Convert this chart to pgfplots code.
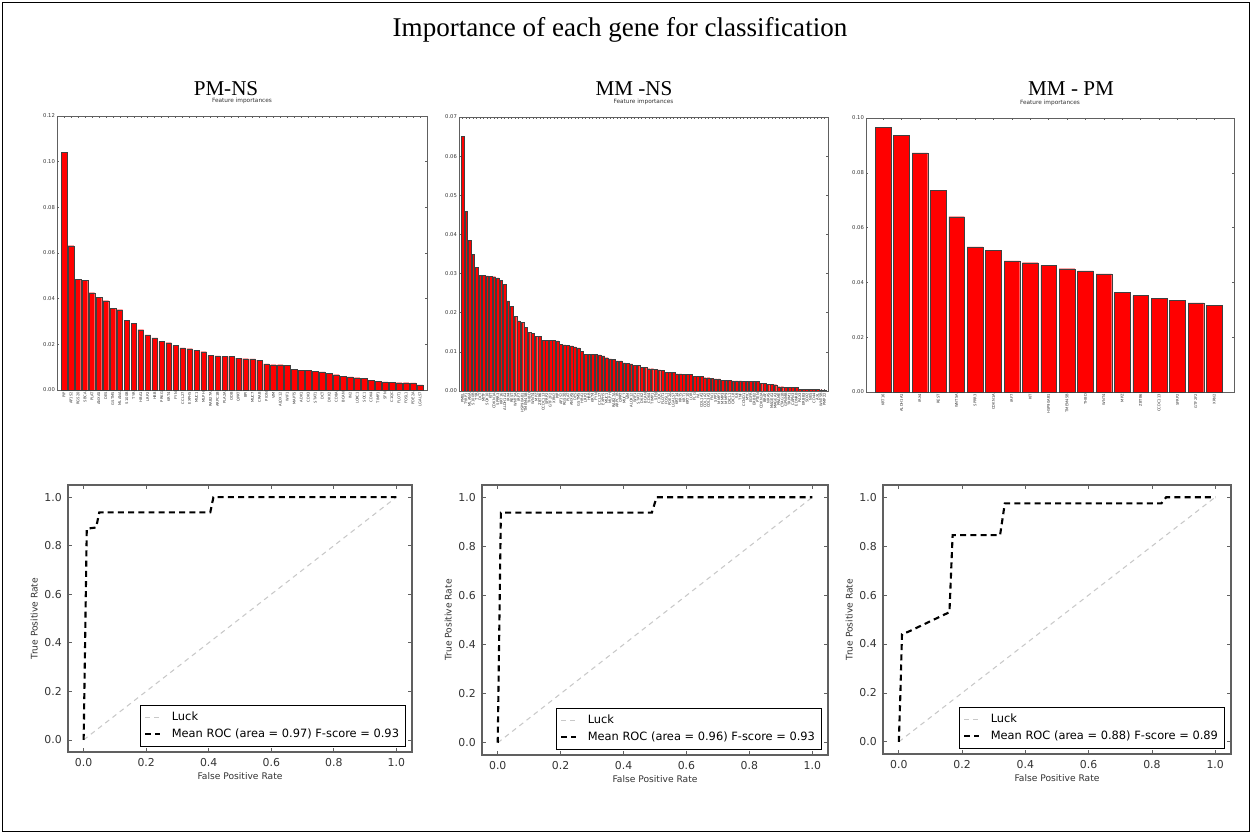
\documentclass[border=0pt]{standalone}
\usepackage{fontspec}
\setmainfont{Liberation Serif}
\newfontfamily\dv{DejaVu Sans}
\usepackage{pgfplots}
\usepackage{pgfplotstable}
\pgfplotsset{compat=1.18}

\definecolor{barred}{HTML}{FF0000}
\definecolor{frame}{HTML}{606060}
\definecolor{luck}{HTML}{C8C8C8}
\definecolor{txt}{HTML}{333333}

% feature importances, PM-NS
\pgfplotstableread{
gene imp
PIP 0.1041
AP1S2 0.0632
RGS20 0.0485
SBCA 0.0480
PLAT 0.0426
ANXA5 0.0406
DES 0.0391
GSTM5 0.0358
MLANA 0.0352
S100B 0.0305
TYR 0.0291
HBA1 0.0264
LRP2 0.0242
HBB 0.0228
PRKG 0.0212
KRT4 0.0207
FYN 0.0196
CCL27 0.0184
EXPH5 0.0181
MUC1 0.0175
MLPH 0.0168
RAB27A 0.0152
ARPC1B 0.0150
PLA2A 0.0147
ODB 0.0147
QPRT 0.0140
BPI 0.0137
MUC7 0.0136
CRAB 0.0131
PION 0.0115
VIM 0.0111
ALOX12 0.0111
WIF1 0.0109
MAPT5 0.0092
ADK1 0.0086
CDK3 0.0085
STAT1 0.0083
DCT 0.0079
DKK2 0.0072
CD8A 0.0067
BCAN 0.0060
IN2 0.0057
LOXC1 0.0054
SOC1 0.0051
CDK4 0.0042
TIMP1 0.0038
SFN 0.0036
C1QC 0.0034
FLOT1 0.0032
FOSL1 0.0032
PDE2A 0.0031
LGALS7 0.0023
}\pmns

% feature importances, MM-NS
\pgfplotstableread{
gene imp
PMEL 0.0651
TYRP1 0.0459
MLANA 0.0385
S100B 0.0350
TYR 0.0316
DCT 0.0296
MITF 0.0295
SOX10 0.0294
KIT 0.0293
CDKN1A 0.0292
SPRR3 0.0289
KRT16 0.0282
ALDH1A1 0.0272
IRX4 0.0230
REST 0.0216
WNT5A 0.0190
IRF7 0.0179
HSP90AB1 0.0176
TMEM45B 0.0162
THBD 0.0150
WNT4 0.0148
MPZ 0.0139
ZBTB6 0.0139
CCDC113 0.0130
SFRP2 0.0130
GTF2F2 0.0129
XRN2 0.0129
PIP 0.0128
AP1S2 0.0119
RGS20 0.0118
PLAT 0.0117
ANXA5 0.0115
DES 0.0113
GSTM5 0.0110
HBA1 0.0101
LRP2 0.0094
HBB 0.0094
KRT4 0.0094
FYN 0.0093
CCL27 0.0092
EXPH5 0.0090
MUC1 0.0085
MLPH 0.0082
RAB27A 0.0081
ARPC1B 0.0077
QPRT 0.0077
MUC7 0.0072
VIM 0.0071
ALOX12 0.0069
WIF1 0.0065
STAT1 0.0065
DKK2 0.0060
BCAN 0.0060
CDK4 0.0057
TIMP1 0.0057
SFN 0.0055
C1QC 0.0054
FLOT1 0.0053
FOSL1 0.0048
PDE2A 0.0048
LGALS7 0.0048
KRT14 0.0044
KRT5 0.0044
KRT1 0.0043
KRT10 0.0043
LOR 0.0042
FLG 0.0038
IVL 0.0038
COL1A1 0.0037
COL1A2 0.0034
COL3A1 0.0034
FN1 0.0033
SPP1 0.0031
MMP1 0.0031
MMP3 0.0028
MMP9 0.0028
CXCL1 0.0027
CXCL8 0.0026
IL6 0.0026
TNF 0.0026
CCND1 0.0025
MYC 0.0025
EGFR 0.0025
ERBB2 0.0025
PTEN 0.0024
CDKN2A 0.0019
BRAF 0.0019
NRAS 0.0017
MAGEA1 0.0017
MAGEA3 0.0016
PRAME 0.0011
CTAG1B 0.0011
GPNMB 0.0009
TRPM1 0.0009
CAPN3 0.0009
EDNRB 0.0009
PAX3 0.0005
ERBB3 0.0005
SOX2 0.0005
NES 0.0004
CD44 0.0004
AXL 0.0004
WNT5B 0.0003
PMP22 0.0002
}\mmns

% feature importances, MM-PM
\pgfplotstableread{
gene imp
KRT16 0.0966
ALDH1A1 0.0936
IRX4 0.0873
REST 0.0735
WNT5A 0.0640
SPRR3 0.0530
CDKN1A 0.0516
IRF7 0.0479
KIT 0.0472
HSP90AB1 0.0462
TMEM45B 0.0450
THBD 0.0442
WNT4 0.0431
MPZ 0.0363
ZBTB6 0.0352
CCDC113 0.0343
SFRP2 0.0334
GTF2F2 0.0325
XRN2 0.0317
}\mmpm

\pgfplotsset{
  imp/.style={
    scale only axis, anchor=north west,
    width=7.4cm, height=5.48cm,
    ybar, bar width=0.8, ymin=0,
    scaled y ticks=false,
    axis line style={frame, line width=0.4pt},
    tick align=inside, major tick length=1.2pt,
    tick style={frame, line width=0.3pt},
    yticklabel style={font=\dv\fontsize{3}{3.5}\selectfont, text=txt, inner sep=1pt},
    yticklabel={\pgfmathprintnumber[fixed,fixed zerofill,precision=2,assume math mode=true]{\tick}},
    xticklabel style={font=\dv\fontsize{2.1}{2.5}\selectfont, text=txt, rotate=90, anchor=east, inner sep=1pt},
    title={Feature importances},
    title style={font=\dv\fontsize{3.3}{4}\selectfont, text=txt, at={(0.5,1)}, anchor=south, inner sep=0.8pt},
  },
  impbar/.style={fill=barred, draw=black!75, line width=0.15pt},
  roc/.style={
    scale only axis, anchor=north west,
    xmin=-0.05, xmax=1.05, ymin=-0.05, ymax=1.05,
    xtick={0,0.2,0.4,0.6,0.8,1.0}, ytick={0,0.2,0.4,0.6,0.8,1.0},
    axis line style={frame, line width=0.6pt},
    tick align=inside, major tick length=2.5pt,
    tick style={frame, line width=0.4pt},
    ticklabel style={font=\dv\fontsize{6.2}{7}\selectfont, text=txt},
    xticklabel={\pgfmathprintnumber[fixed,fixed zerofill,precision=1,assume math mode=true]{\tick}},
    yticklabel={\pgfmathprintnumber[fixed,fixed zerofill,precision=1,assume math mode=true]{\tick}},
    label style={font=\dv\fontsize{5.2}{6}\selectfont, text=txt},
    xlabel={False Positive Rate}, ylabel={True Positive Rate},
    xlabel style={yshift=3.5pt}, ylabel style={yshift=-3pt},
    legend style={at={(0.983,0.019)}, anchor=south east, draw=black, line width=0.5pt,
      font=\dv\fontsize{6.5}{7.8}\selectfont, text=black, inner sep=1.8pt,
      row sep=-1pt, /tikz/every odd column/.append style={column sep=4pt}},
    legend cell align=left,
    legend image code/.code={\draw[#1] (0pt,0pt) -- (8.6pt,0pt);},
  },
  luckline/.style={luck, line width=0.6pt, dash pattern=on 2.8pt off 2.4pt},
  meanline/.style={black, line width=1.2pt, dash pattern=on 3.4pt off 2.4pt},
}

\begin{document}
\begin{tikzpicture}
\path[use as bounding box] (0,0) rectangle (25.04,-16.68);
\draw[black, line width=0.8pt] (0.05,-0.05) rectangle (24.99,-16.63);

\node[font=\fontsize{15.4}{18}\selectfont] at (12.4,-0.60) {Importance of each gene for classification};
\node[font=\fontsize{12}{14}\selectfont] at (4.52,-1.78) {PM-NS};
\node[font=\fontsize{12}{14}\selectfont] at (12.68,-1.78) {MM -NS};
\node[font=\fontsize{12}{14}\selectfont] at (21.42,-1.78) {MM - PM};

\begin{axis}[imp, at={(1.14cm,-2.32cm)}, xmin=-1, xmax=52, ymax=0.12,
  ytick={0,0.02,...,0.12}, xtick={0,...,51}, xticklabels from table={\pmns}{gene}]
\addplot[impbar] table[x expr=\coordindex, y=imp] {\pmns};
\end{axis}

\begin{axis}[imp, at={(9.18cm,-2.34cm)}, width=7.38cm, xmin=-1, xmax=104, ymax=0.07,
  ytick={0,0.01,...,0.07}, xtick={0,...,103}, xticklabels from table={\mmns}{gene}]
\addplot[impbar] table[x expr=\coordindex, y=imp] {\mmns};
\end{axis}

\begin{axis}[imp, at={(17.32cm,-2.36cm)}, width=7.36cm, xmin=-0.925, xmax=19.075, ymax=0.10,
  bar width=0.85, ytick={0,0.02,...,0.10}, xtick={0,...,18}, xticklabels from table={\mmpm}{gene}]
\addplot[impbar] table[x expr=\coordindex, y=imp] {\mmpm};
\end{axis}

\begin{axis}[roc, at={(1.36cm,-9.70cm)}, width=6.88cm, height=5.34cm]
\addplot[luckline] coordinates {(0,0) (1,1)};
\addplot[meanline] coordinates {(0,0) (0.003,0.25) (0.01,0.87) (0.04,0.875) (0.05,0.9375) (0.405,0.9375) (0.415,1.0) (1,1)};
\legend{Luck, Mean ROC (area = 0.97) F-score = 0.93}
\end{axis}

\begin{axis}[roc, at={(9.64cm,-9.70cm)}, width=6.92cm, height=5.40cm]
\addplot[luckline] coordinates {(0,0) (1,1)};
\addplot[meanline] coordinates {(0,0) (0.01,0.9375) (0.49,0.9375) (0.505,1.0) (1,1)};
\legend{Luck, Mean ROC (area = 0.96) F-score = 0.93}
\end{axis}

\begin{axis}[roc, at={(17.66cm,-9.70cm)}, width=6.96cm, height=5.38cm]
\addplot[luckline] coordinates {(0,0) (1,1)};
\addplot[meanline] coordinates {(0,0) (0.005,0.2) (0.01,0.44) (0.03,0.45) (0.16,0.53) (0.17,0.845) (0.32,0.845) (0.335,0.975) (0.83,0.975) (0.845,1.0) (1,1)};
\legend{Luck, Mean ROC (area = 0.88) F-score = 0.89}
\end{axis}
\end{tikzpicture}
\end{document}
